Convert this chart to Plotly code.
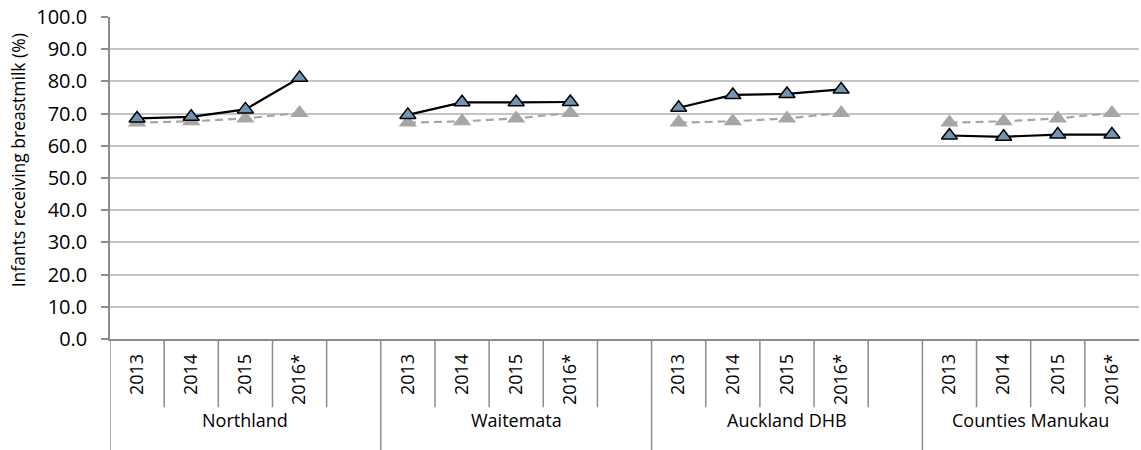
import plotly.graph_objects as go

# Data: infants receiving breastmilk (%) by DHB and year, with the national rate
dhbs = ["Northland", "Waitemata", "Auckland DHB", "Counties Manukau"]
years = ["2013", "2014", "2015", "2016*"]
dhb_values = [
    [68.5, 69.0, 71.3, 81.1],   # Northland
    [69.6, 73.5, 73.5, 73.6],   # Waitemata
    [71.8, 75.8, 76.1, 77.5],   # Auckland DHB
    [63.2, 62.8, 63.5, 63.5],   # Counties Manukau
]
nz_values = [67.2, 67.6, 68.5, 70.2]
y_ticks = [0, 10, 20, 30, 40, 50, 60, 70, 80, 90, 100]

SLOTS_PER_GROUP = 5  # four years plus one empty spacer slot
n_groups = len(dhbs)
n_slots = SLOTS_PER_GROUP * (n_groups - 1) + len(years)

FONT = "Open Sans, Noto Sans, sans-serif"
AXIS_COL = "#8c8c8c"
GRID_COL = "#c4c4c4"

fig = go.Figure()

tickvals, ticktext = [], []
for g, name in enumerate(dhbs):
    xs = [SLOTS_PER_GROUP * g + i for i in range(len(years))]
    tickvals += xs
    ticktext += years
    # national comparison (grey dashed)
    fig.add_trace(go.Scatter(
        x=xs, y=nz_values, mode="lines+markers",
        line=dict(color="#a6a6a6", width=2.2, dash="8px,5px"),
        marker=dict(symbol="triangle-up", size=16, color="#a6a6a6",
                    line=dict(width=0)),
        showlegend=False, hoverinfo="skip"))
for g, name in enumerate(dhbs):
    xs = [SLOTS_PER_GROUP * g + i for i in range(len(years))]
    fig.add_trace(go.Scatter(
        x=xs, y=dhb_values[g], mode="lines+markers", name=name,
        line=dict(color="#000000", width=2.2),
        marker=dict(symbol="triangle-up", size=14, color="#7395b5",
                    line=dict(color="#000000", width=1.5)),
        showlegend=False))

# category separators below the axis
shapes = []
for k in range(n_slots):
    x = k - 0.5
    is_group_edge = k % SLOTS_PER_GROUP == 0
    shapes.append(dict(type="line", xref="x", yref="paper",
                       x0=x, x1=x, y0=0, y1=-0.345 if is_group_edge else -0.212,
                       line=dict(color=AXIS_COL, width=1.5)))

annotations = []
for g, name in enumerate(dhbs):
    start = SLOTS_PER_GROUP * g - 0.5
    end = min(start + SLOTS_PER_GROUP, n_slots - 0.5)
    annotations.append(dict(x=(start + end) / 2, y=-0.2516, xref="x", yref="paper",
                            text=name, showarrow=False, yanchor="middle",
                            font=dict(family=FONT, size=18, color="#000000")))

# y-axis title
annotations.append(dict(x=-92 / 1029, y=0.555, xref="paper", yref="paper",
                        text="Infants receiving breastmilk (%)", textangle=-90,
                        showarrow=False, xanchor="center", yanchor="middle",
                        font=dict(family=FONT, size=17.5, color="#000000")))

fig.update_layout(
    width=1141, height=450,
    margin=dict(l=110, r=2, t=17, b=111),
    plot_bgcolor="white", paper_bgcolor="white",
    font=dict(family=FONT, size=18, color="#000000"),
    shapes=shapes, annotations=annotations,
    xaxis=dict(range=[-0.5, n_slots - 0.5], tickvals=tickvals, ticktext=ticktext,
               tickangle=-90, showgrid=False, zeroline=False,
               showline=True, linecolor=AXIS_COL, linewidth=1.5,
               ticks="", ticklabelstandoff=6,
               tickfont=dict(family=FONT, size=18)),
    yaxis=dict(range=[0, 100], tickvals=y_ticks, tickformat=".1f",
               showgrid=True, gridcolor=GRID_COL, gridwidth=1.5, zeroline=False,
               showline=True, linecolor=AXIS_COL, linewidth=1.5,
               ticks="outside", ticklen=7, tickcolor=AXIS_COL, tickwidth=1.5,
               ticklabelstandoff=10,
               tickfont=dict(family=FONT, size=20)),
)

fig.write_html("out.html")
